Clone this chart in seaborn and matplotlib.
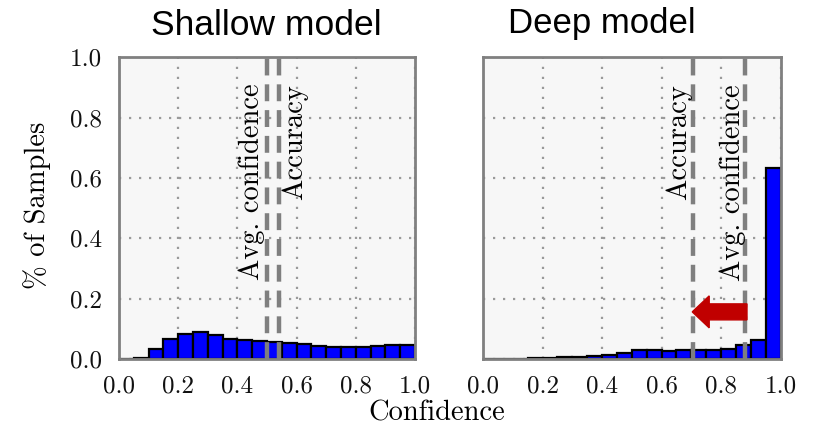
import numpy as np
import pandas as pd
import matplotlib
matplotlib.use("Agg")
import matplotlib.pyplot as plt
import seaborn as sns

# ---- data ----
bin_centers = [0.025, 0.075, 0.125, 0.175, 0.225, 0.275, 0.325, 0.375, 0.425, 0.475,
               0.525, 0.575, 0.625, 0.675, 0.725, 0.775, 0.825, 0.875, 0.925, 0.975]
shallow_frac = [0.0, 0.004, 0.034, 0.067, 0.082, 0.089, 0.078, 0.067, 0.064, 0.060,
                0.056, 0.053, 0.049, 0.042, 0.040, 0.040, 0.040, 0.042, 0.045, 0.047]
deep_frac = [0.0, 0.0, 0.0, 0.002, 0.003, 0.005, 0.008, 0.011, 0.014, 0.020,
             0.029, 0.029, 0.026, 0.031, 0.031, 0.031, 0.034, 0.045, 0.062, 0.632]
shallow_avg_conf = 0.50
shallow_acc = 0.54
deep_acc = 0.705
deep_avg_conf = 0.88
tick_vals = [0.0, 0.2, 0.4, 0.6, 0.8, 1.0]
tick_labels = ["0.0", "0.2", "0.4", "0.6", "0.8", "1.0"]

sns.set_theme(style="white")
plt.rcParams['font.family'] = ['cmr10', 'DejaVu Serif']
plt.rcParams['axes.formatter.use_mathtext'] = True
plt.rcParams['mathtext.fontset'] = 'cm'

fig = plt.figure(figsize=(8.23, 4.33), dpi=100)
axL = fig.add_axes([0.1446, 0.171, 0.3597, 0.697])
axR = fig.add_axes([0.587, 0.171, 0.3615, 0.697])

panels = [
    (axL, shallow_frac, [(shallow_avg_conf, "Avg. confidence"), (shallow_acc, "Accuracy")]),
    (axR, deep_frac, [(deep_acc, "Accuracy"), (deep_avg_conf, "Avg. confidence")]),
]

for ax, frac, lines in panels:
    df = pd.DataFrame({"conf": bin_centers, "w": frac})
    ax.set_facecolor("#f7f7f7")
    sns.histplot(data=df, x="conf", weights="w", binwidth=0.05, binrange=(0, 1), ax=ax,
                 color="#0000ff", edgecolor="black", linewidth=1.6, alpha=1.0,
                 zorder=2)
    ax.set_xlim(0, 1)
    ax.set_ylim(0, 1)
    ax.set_xticks(tick_vals)
    ax.set_yticks(tick_vals)
    ax.set_xticklabels(tick_labels)
    ax.set_yticklabels(tick_labels)
    ax.grid(True, linestyle=(0, (1, 3.5)), color="#9a9a9a", linewidth=1.6, zorder=1)
    ax.set_axisbelow(True)
    ax.tick_params(axis="both", length=0, pad=12, labelsize=18, colors="#111111")
    ax.set_xlabel("")
    ax.set_ylabel("")
    for sp in ax.spines.values():
        sp.set_color("#808080")
        sp.set_linewidth(2.0)
    for xv, _ in lines:
        ax.axvline(xv, color="#7f7f7f", linewidth=3.2, linestyle=(0, (3.8, 2.0)), zorder=3)

axR.set_yticklabels([])

# annotations (rotated labels)
axL.text(0.45, 0.586, "Avg. confidence", rotation=90, ha="center", va="center", fontsize=20.5, color="black")
axL.text(0.593, 0.72, "Accuracy", rotation=90, ha="center", va="center", fontsize=20.5, color="black")
axR.text(0.659, 0.718, "Accuracy", rotation=90, ha="center", va="center", fontsize=20.5, color="black")
axR.text(0.84, 0.583, "Avg. confidence", rotation=90, ha="center", va="center", fontsize=20.5, color="black")

# red arrow
axR.arrow(0.887, 0.156, 0.703 - 0.887, 0.0, width=0.053, head_width=0.106,
          head_length=0.057, length_includes_head=True, color="#c00000", zorder=4)

# titles and axis labels
fig.text(0.323, 0.942, "Shallow model", fontsize=25.5, family=["Liberation Sans", "DejaVu Sans"],
         ha="center", va="center", color="black")
fig.text(0.731, 0.945, "Deep model", fontsize=25, family=["Liberation Sans", "DejaVu Sans"],
         ha="center", va="center", color="black")
fig.text(0.531, 0.046, "Confidence", fontsize=20.5, ha="center", va="center", color="black")
fig.text(0.045, 0.525, "% of Samples", fontsize=20.5, rotation=90, ha="center", va="center", color="black")

fig.savefig("out.png", dpi=100, facecolor="white")
